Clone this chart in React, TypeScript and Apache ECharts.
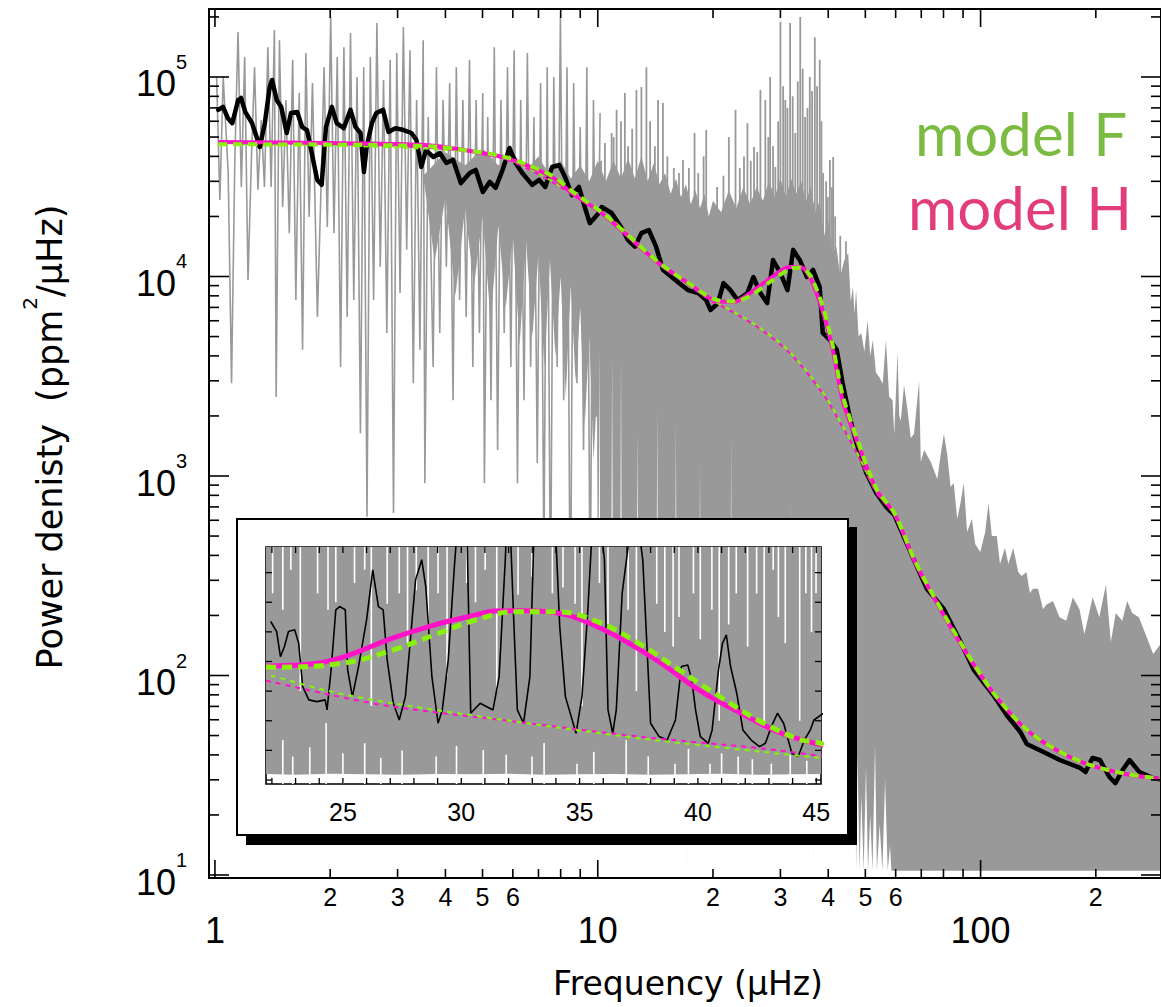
import React, { useEffect, useRef } from 'react';
import * as echarts from 'echarts';

// ---------------- axis ranges ----------------
const X_MIN = 0.9649, X_MAX = 296, Y_MIN = 9.66, Y_MAX = 219200;
const IX_MIN = 21.75, IX_MAX = 45.2, IY_MIN = -270, IY_MAX = 15730;

// ---------------- main panel: raw spectrum, low frequency part (zig-zag) ----------------
const grayLowFreq = [1.010,1.030,1.051,1.083,1.105,1.127,1.149,1.172,1.196,1.220,1.245,1.269,1.295,1.321,1.347,1.375,1.402,1.430,1.445,1.474,1.503,1.533,1.564,1.596,1.627,1.660,1.694,1.728,1.762,1.798,1.852,1.889,1.928,1.966,2.006,2.046,2.087,2.129,2.172,2.215,2.260,2.305,2.351,2.399,2.447,2.496,2.546,2.597,2.649,2.703,2.757,2.812,2.869,2.927,2.985,3.045,3.106,3.169,3.232,3.297,3.364,3.431,3.499,3.535,3.606,3.715,3.790,3.866,3.944,4.023,4.104,4.187,4.271,4.355,4.443,4.532,4.624,4.717,4.811,4.908,5.007,5.057,5.158,5.262,5.367,5.475,5.585,5.697,5.811,5.929,6.047,6.169,6.292,6.418,6.548,6.679,6.813,6.950,7.090,7.232,7.378,7.525,7.676,7.831,7.988,8.147,8.312,8.479,8.649,8.822,8.999,9.181,9.365,9.553,9.745,9.940,10.14];
const grayLowPower = [100000,24200,100000,33000,2920,38400,168000,28100,126000,9600,38400,112000,27200,60900,28100,141000,28100,172000,2490,153000,22300,76700,16500,122000,7620,83200,4290,132000,19900,93300,6260,24200,112000,17700,200000,16500,126000,3520,141000,6260,166000,7620,100000,1640,112000,624,126000,7620,186600,11200,96600,5210,122000,653,132000,8260,178000,13600,136000,2920,76700,4290,153000,920,63100,3520,112000,5210,76700,11200,93300,2400,112000,7620,76700,6260,122000,3520,76700,5210,83200,920,63100,2400,141000,1350,76700,5210,112000,3520,136000,920,76700,2400,132000,3520,63100,1160,93300,380,112000,190,100000,3520,200000,2400,112000,134,93300,2920,56100,1350,112000,200,76700,1980,66000];

// ---------------- main panel: raw spectrum, dense part (envelopes) ----------------
const bandTopFreq = [3.5,4.0,4.5,5.0,5.5,6.0,6.5,7.0,7.5,8.0,8.5,9.0,9.5,10.0,10.5,11.0,11.5,12.0,12.5,13.0,13.5,14.0,14.5,15.0,15.5,16.0,16.5,17.0,17.5,18.0,18.5,19.0,19.5,20.0,21,22,23,24,25,26,27,28,29,30,31,32,33,34,35,36,37,38,39,40,41,42,43,44,45.1,45.8,46.4,46.85,47.3,48.0,48.8,49.7,50.7,51.5,52.3,53.3,54.4,55.5,56.6,57.7,58.9,59.5,60.7,61.3,61.9,63.1,64.4,65.7,67.0,69.1,69.8,71.2,74.1,77.1,78.7,80.2,81.8,83.5,85.1,86.9,88.6,90.4,92.2,94.9,96.8,99.8,102.8,104.9,107,110.2,112.4,115.8,118.2,121.7,125.4,128,131.8,134.5,137.2,141.3,145.6,148.5,154.6,160.8,167.4,174.2,181.3,186.7,196.2,204.2,212.5,218.9,225.5,234.5,241.5,248.9,259.1,269.8,282.4,300];
const bandTopPower = [32000,42000,36000,44000,36000,42000,34000,40000,32000,38000,31000,36000,30000,38000,30000,38000,31000,39000,31000,40000,30000,37000,29000,33000,26000,31000,25000,29000,23000,27000,22000,26000,20000,24000,21000,27000,22000,28000,23000,28000,24000,30000,25000,31000,25000,31000,26000,30000,24000,28000,21000,24000,16000,19000,13000,14100,10000,12000,13100,7500,8850,6500,8550,5000,5210,4200,6060,4000,4810,3300,3130,2900,4810,2500,2400,1625,4190,2000,1890,2860,2170,1550,1625,2990,1175,1350,1175,966,1290,1625,1290,881,923,609,732,923,524,609,456,416,524,732,500,500,362,436,362,436,330,315,330,259,272,272,215,226,236,196,188,247,215,161,247,196,285,147,206,188,236,206,196,161,128,150];
const bandBottomFreq = [3.5,3.75,4.0,4.25,4.5,4.75,5.0,5.25,5.5,5.75,6.0,6.25,6.5,6.75,7.0,7.25,7.5,7.75,8.0,8.25,8.5,8.75,9.0,9.25,9.5,9.75,9.95,10.0,10.05,10.1,10.15,10.85,10.9,10.95,11.45,11.5,11.55,12.65,12.7,12.75,14.25,14.3,14.35,15.95,16.0,16.05,17.05,17.1,17.15,18.45,18.5,18.55,22.25,22.3,22.35,31.75,31.8,31.85,35.45,35.5,35.55,36.45,36.5,36.55,37.25,37.3,37.35,41.05,41.1,41.15,45.4,45.5,45.6,46.4,47.0,47.3,47.7,48.3,48.8,49.5,50.2,50.8,51.5,52.2,53.0,53.6,54.5,55.4,56.3,57.2,58.0,58.5,300];
const bandBottomPower = [32000,12000,25000,8000,22000,9000,20000,6000,18000,7000,16000,4500,15000,5000,13000,3500,12000,4000,10000,2500,9000,3000,7000,1800,5000,1200,2500,300,300,4290,300,300,4000,300,300,4000,300,300,1640,300,300,2200,300,300,1850,300,300,10.5,300,300,1160,300,300,1640,300,300,760,300,300,10.5,300,300,10.5,300,300,10.5,300,300,10.5,300,300,10.5,300,60,60,10.5,40,10.5,25,10.5,35,10.5,20,10.5,45,10.5,18,10.5,30,10.5,14,10.5,10.5];
// tall single spectral lines rising above the dense part
const spikeFreq = [10.2,10.44,10.87,11.0,11.2,11.5,11.77,12.0,12.3,12.62,13.0,13.4,13.7,14.1,14.37,14.8,15.2,15.8,16.3,16.7,17.3,17.9,18.3,18.9,19.2,20.5,21.3,22.0,22.9,23.5,24.1,24.6,25.1,25.6,26.1,26.6,27.4,27.9,28.2,28.7,29.1,29.6,30.0,30.5,30.9,31.3,31.8,32.3,32.8,33.3,33.8,34.3,34.8,35.3,35.8,36.3,36.9,37.4,38.0,38.4,38.8,39.5,39.9,40.4,40.9,41.2,41.7,43.0,44.5];
const spikePeak = [38000,46700,52400,50000,68400,60000,83200,45000,55000,86100,89100,112000,60000,45000,76700,74100,40000,35000,33000,38400,35000,52400,33000,40000,54200,28100,32000,50000,68400,35000,40000,58700,38000,44600,42000,86100,76700,50000,100000,45000,35400,60000,189000,90000,76700,70000,186600,80000,52400,95000,200000,110000,63100,70000,100000,85000,158000,90000,122000,60000,33000,30000,25000,38400,28000,39700,20000,16000,15000];
const SPIKE_BASE = 5000;

// ---------------- main panel: smoothed spectrum ----------------
const smoothFreq = [1.02,1.05,1.08,1.11,1.15,1.17,1.20,1.25,1.285,1.31,1.35,1.39,1.41,1.45,1.49,1.54,1.58,1.64,1.69,1.74,1.79,1.85,1.90,1.95,2.02,2.08,2.17,2.26,2.33,2.40,2.45,2.49,2.57,2.64,2.75,2.84,2.96,3.11,3.26,3.36,3.46,3.56,3.72,3.87,4.02,4.19,4.39,4.63,4.80,5.01,5.22,5.41,5.64,5.88,6.10,6.35,6.74,7.03,7.29,7.60,7.93,8.21,8.56,8.93,9.25,9.53,10.06,10.24,10.87,11.5,12.0,12.5,13.0,13.6,14.2,14.8,15.6,16.3,17.2,18.3,19.2,19.7,20.6,21.3,22.2,23.2,24.6,25.5,26.6,27.7,28.7,30.0,31.3,32.4,33.7,35.2,36.5,38.0,38.7,40.4,42.1,43.6,45.5,47.4,50.3,53.4,56.7,59.5,67.0,72.4,80.2,88.7,95.9,108,117,127,132,146,161,182,188,196,205,217,225,235,245,260,282,300];
const smoothPower = [68400,70800,62300,58700,76700,78500,66800,58700,50000,44600,58700,89100,96600,76700,70800,52400,66000,66800,56100,54200,41600,30500,28800,56100,70800,58700,55400,68400,56100,52400,33400,44600,58700,66000,68400,53000,55400,54200,52400,48300,35400,43000,39700,41600,37100,38400,29400,33000,34200,26500,29800,27800,34200,44100,37100,33000,28800,30500,28100,35400,36200,31600,25600,28100,22300,18500,20800,22300,20800,17700,15200,14100,16500,17100,14100,10800,9940,9270,8550,8260,7620,6790,7360,9270,8550,7620,8260,9940,8260,7360,12100,10400,8550,13600,12100,9940,10800,8850,5210,4810,4290,2930,1980,1460,1035,822,700,638,379,272,215,147,107,79.8,63.4,52.1,45.4,41.4,37.7,34.4,32.8,38.6,37.7,31.0,28.9,33.6,37.7,32.8,30.6,30.0];

// ---------------- main panel: models ----------------
const modelFreq = [1.02,2,3,3.78,4.5,5.64,6.5,7.6,8.56,10.24,11.75,14.4,17.5,20.1,22.6,25.0,28.2,31.7,33.8,35.8,38.6,41.1,43.6,47.5,53.5,59.5,67,72.4,88.7,108,132,161,196,239,282,300];
const modelHPower = [47200,46700,46100,45100,43000,39700,36200,31500,26200,20800,16500,11700,9070,7620,7450,8260,9780,11170,11170,9940,6790,4290,2400,1510,850,650,380,285,144,81.6,53.3,41.4,35.2,32.1,30.6,30.2];
const modelFPower = [46000,45800,45400,44800,43000,40000,36500,32000,26800,21000,16700,11800,9100,7700,7500,8000,9400,10900,11100,10200,7200,4500,2550,1550,860,655,385,288,146,82,53.5,41.5,35.3,32.2,30.7,30.2];
const bgFreq = [1.02,5,10.24,14.4,17.5,20.1,21.3,26.1,31.7,38.6,43.6,47.5,53.5,59.5,67,72.4,88.7,108,132,161,196,239,282,300];
const bgHPower = [47200,41500,20800,11700,8900,7400,7030,5580,4140,2610,1760,1300,820,640,378,284,144,81.6,53.3,41.4,35.2,32.1,30.6,30.2];
const bgFPower = [46000,41600,21000,11800,9000,7500,7100,5650,4200,2650,1790,1320,830,645,383,287,146,82,53.5,41.5,35.3,32.2,30.7,30.2];

// ---------------- inset panel ----------------
const insetTopFreq = [21.75, 45.2];
const insetTopValue = [17500, 17500];
const insetBaseFreq = [21.75,23,24.5,26,27.5,29,30.5,32,33.5,35,36.5,38,39.5,41,42.5,44,45.2];
const insetBaseValue = [400,350,420,380,350,400,380,420,350,380,400,350,380,420,350,380,400];
// low points of the raw spectrum reaching down from the top of the inset
const insetTopGapFreq = [22.03,22.46,22.80,23.2,23.93,24.37,24.7,25.49,25.92,26.2,26.87,27.38,27.73,28.1,28.6,29.02,29.4,30.23,30.6,31.01,31.5,32.4,32.99,33.85,34.3,34.81,35.1,35.84,36.2,37.05,37.4,38.26,38.6,38.95,39.2,39.81,40.1,40.59,40.9,41.3,41.62,42.1,42.48,42.8,43.18,43.4,43.69,44.3,44.56,44.8,44.99];
const insetTopGapDepth = [12600,11500,14200,6000,12600,11500,12000,13300,14200,5000,11900,12600,9240,12800,10500,12600,7000,13300,12000,14200,6000,12500,13700,12600,13000,11900,5000,13300,10500,11500,6000,11900,10000,9010,11000,12600,9500,11500,4000,10500,12600,9000,12600,3500,14200,11000,9240,4000,12600,10000,12600];
// white gaps rising from the bottom of the inset
const insetBottomGapFreq = [22.46,22.88,23.6,24.29,25.0,25.92,26.6,27.5,28.94,29.8,30.93,31.9,32.99,33.5,34.89,35.6,36.97,37.9,39.03,39.6,40.51,41.0,41.70,42.3,43.10,43.9,44.6];
const insetBottomGapTop = [2700,1580,2200,3850,1800,2480,1500,2000,1580,2300,2030,1700,1580,2500,1100,1900,2700,1600,1100,2100,1100,1800,1580,1400,1100,1700,1300];
const insetSmoothFreq = [21.95,22.2,22.36,22.53,22.7,22.96,23.13,23.3,23.56,23.9,24.25,24.33,24.5,24.7,24.86,25.1,25.2,25.4,25.66,26.0,26.26,26.5,26.7,26.87,27.13,27.38,27.64,27.9,28.07,28.33,28.5,28.76,29.02,29.2,29.45,29.71,29.97,30.2,30.4,30.8,31.34,31.6,31.86,32.0,32.2,32.37,32.63,32.9,33.06,33.2,33.9,34.16,34.4,34.85,35.1,35.35,35.5,35.7,36.05,36.2,36.4,36.55,36.8,37.07,37.24,37.67,37.84,38.0,38.36,38.7,39.05,39.3,39.57,39.74,39.9,40.1,40.44,40.6,40.87,41.04,41.2,41.38,41.64,41.9,42.25,42.6,42.85,43.1,43.36,43.62,43.97,44.23,44.5,44.75,44.9,45.3];
const insetSmoothValue = [10700,10020,8330,9010,10020,10140,9240,6300,5410,5290,5410,4730,7430,11490,11710,11490,7430,5630,7660,10810,14190,11710,11490,8110,5180,4050,5630,10360,13510,14870,13060,6980,3830,4730,8110,14410,20000,20000,4505,5180,4730,6980,14870,20000,11490,4730,3830,6980,15990,20000,20000,10360,5630,3155,5630,11490,15990,20000,14870,4730,3155,4730,12610,15990,20000,14870,9240,3830,2930,2700,4050,7660,7770,6760,4730,2930,2480,3380,7430,9240,9800,7660,5860,3380,2700,2250,2480,3600,4505,3830,1800,1575,2700,3380,4050,4500];
const insetHFreq = [21.75,21.95,23.67,25.04,27.1,28.85,30.58,31.4,32.5,33.67,34.9,36.6,38.35,40.05,41.8,43.5,44.9,45.3];
const insetHValue = [7690,7700,7830,8320,9585,10460,11130,11410,11430,11360,10930,9675,7990,6075,4520,3170,2495,2350];
const insetFFreq = [21.75,22.0,25.04,27.1,28.85,30.6,32.3,34.03,35.75,37.47,39.2,40.93,42.66,44.37,44.9,45.3];
const insetFValue = [7640,7615,7900,8775,9790,10800,11360,11360,10690,9250,7430,5620,3935,2700,2590,2400];
const insetBgFreq = [21.75,21.95,24.5,27.1,32.3,37.5,42.66,44.9,45.3];
const insetBgHValue = [6700,6640,5740,4950,3940,2930,2140,1690,1620];
const insetBgFValue = [7120,7050,5970,5180,3940,2820,1910,1530,1470];

// ---------------- ticks and tick labels ----------------
const xMajorTicks = [1, 10, 100];
const xMajorLabels = ['1', '10', '100'];
const xMinorTicks = [2,3,4,5,6,7,8,9,20,30,40,50,60,70,80,90,200];
const xMinorLabelValues = [2,3,4,5,6,20,30,40,50,60,200];
const xMinorLabelTexts = ['2','3','4','5','6','2','3','4','5','6','2'];
const yMajorTicks = [10, 100, 1000, 10000, 100000];
const yMajorExponents = ['1','2','3','4','5'];
const yMinorTicks = [20,30,40,50,60,70,80,90,200,300,400,500,600,700,800,900,2000,3000,4000,5000,6000,7000,8000,9000,20000,30000,40000,50000,60000,70000,80000,90000,200000];
const insetXTicks = [22,23,24,25,26,27,28,29,30,31,32,33,34,35,36,37,38,39,40,41,42,43,44,45];
const insetXLabels = [25, 30, 35, 40, 45];
const insetYTicks = [0,2000,4000,6000,8000,10000,12000,14000];

const NUM_FONT = '"Liberation Sans", Arial, sans-serif';
const TITLE_FONT = '"DejaVu Sans", sans-serif';
const LEGEND_FONT = 'Lato, "Liberation Sans", sans-serif';
const GRAY = '#999999';
const MAGENTA = '#ff12c8';
const LIME = '#88f20a';

const zip = (a: number[], b: number[]) => a.map((v, i) => [v, b[i]]);

function bandRenderer(tf: number[], tp: number[], bf: number[], bp: number[], lo: number, hi: number) {
  return (params: any, api: any) => {
    if (params.dataIndex !== 0) return null;
    const pts: number[][] = [];
    for (let i = 0; i < tf.length; i++) pts.push(api.coord([tf[i], Math.min(hi, Math.max(lo, tp[i]))]));
    for (let i = bf.length - 1; i >= 0; i--) pts.push(api.coord([bf[i], Math.min(hi, Math.max(lo, bp[i]))]));
    return { type: 'polygon', shape: { points: pts }, style: { fill: GRAY } };
  };
}

function verticalLineRenderer(base: number, color: string, width: number) {
  return (params: any, api: any) => {
    const f = api.value(0), p = api.value(1);
    const a = api.coord([f, p]);
    const b = api.coord([f, base]);
    return { type: 'line', shape: { x1: a[0], y1: a[1], x2: b[0], y2: b[1] }, style: { stroke: color, lineWidth: width } };
  };
}

function mainDecor(params: any, api: any) {
  if (params.dataIndex !== 0) return null;
  const ch: any[] = [];
  const L = (x1: number, y1: number, x2: number, y2: number) =>
    ch.push({ type: 'line', shape: { x1, y1, x2, y2 }, style: { stroke: '#000', lineWidth: 1.6 } });
  const T = (x: number, y: number, text: string, size: number, align = 'center') =>
    ch.push({ type: 'text', x, y, style: { text, fontSize: size, fontFamily: NUM_FONT, fill: '#000', align, verticalAlign: 'middle' } });
  xMajorTicks.forEach((v, i) => {
    const [x, yb] = api.coord([v, Y_MIN]);
    const yt = api.coord([v, Y_MAX])[1];
    L(x, yb, x, yb - 18); L(x, yt, x, yt + 18);
    T(x, yb + 52, xMajorLabels[i], 36);
  });
  xMinorTicks.forEach((v) => {
    const [x, yb] = api.coord([v, Y_MIN]);
    const yt = api.coord([v, Y_MAX])[1];
    L(x, yb, x, yb - 9); L(x, yt, x, yt + 9);
  });
  xMinorLabelValues.forEach((v, i) => {
    const [x, yb] = api.coord([v, Y_MIN]);
    T(x, yb + 19, xMinorLabelTexts[i], 25);
  });
  yMajorTicks.forEach((v, i) => {
    const [xl, y] = api.coord([X_MIN, v]);
    const xr = api.coord([X_MAX, v])[0];
    L(xl, y, xl + 20, y); L(xr, y, xr - 20, y);
    T(xl - 33, y + 7, '10', 36, 'right');
    T(xl - 33, y - 15, yMajorExponents[i], 20, 'left');
  });
  yMinorTicks.forEach((v) => {
    const [xl, y] = api.coord([X_MIN, v]);
    const xr = api.coord([X_MAX, v])[0];
    L(xl, y, xl + 10, y); L(xr, y, xr - 10, y);
  });
  return { type: 'group', children: ch };
}

function insetDecor(params: any, api: any) {
  if (params.dataIndex !== 0) return null;
  const ch: any[] = [];
  const L = (x1: number, y1: number, x2: number, y2: number) =>
    ch.push({ type: 'line', shape: { x1, y1, x2, y2 }, style: { stroke: '#000', lineWidth: 1.3 } });
  insetXTicks.forEach((v) => {
    const [x, yb] = api.coord([v, IY_MIN]);
    const yt = api.coord([v, IY_MAX])[1];
    L(x, yb, x, yb - 6); L(x, yt, x, yt + 6);
  });
  insetYTicks.forEach((v) => {
    const [xl, y] = api.coord([IX_MIN, v]);
    const xr = api.coord([IX_MAX, v])[0];
    L(xl, y, xl + 6, y); L(xr, y, xr - 6, y);
  });
  insetXLabels.forEach((v) => {
    const [x, yb] = api.coord([v, IY_MIN]);
    ch.push({ type: 'text', x, y: yb + 28, style: { text: String(v), fontSize: 25, fontFamily: NUM_FONT, fill: '#000', align: 'center', verticalAlign: 'middle' } });
  });
  return { type: 'group', children: ch };
}

const hiddenAxis = {
  axisLine: { show: false }, axisTick: { show: false }, axisLabel: { show: false }, splitLine: { show: false },
};

export default function App() {
  const ref = useRef<HTMLDivElement>(null);
  useEffect(() => {
    if (!ref.current) return;
    const chart = echarts.init(ref.current, null, { renderer: 'svg' });
    const option: any = {
      animation: false,
      backgroundColor: '#ffffff',
      grid: [
        { left: 209, top: 9, width: 960, height: 869, show: true, borderColor: '#000', borderWidth: 2, backgroundColor: 'transparent', z: 8 },
        { left: 266, top: 547, width: 555, height: 237, show: true, borderColor: '#000', borderWidth: 1.6, backgroundColor: 'transparent', z: 15 },
      ],
      xAxis: [
        { gridIndex: 0, type: 'log', logBase: 10, min: X_MIN, max: X_MAX, ...hiddenAxis },
        { gridIndex: 1, type: 'value', min: IX_MIN, max: IX_MAX, ...hiddenAxis },
      ],
      yAxis: [
        { gridIndex: 0, type: 'log', logBase: 10, min: Y_MIN, max: Y_MAX, ...hiddenAxis },
        { gridIndex: 1, type: 'value', min: IY_MIN, max: IY_MAX, ...hiddenAxis },
      ],
      graphic: [
        { type: 'rect', z: 10, silent: true, shape: { x: 246, y: 527, width: 611, height: 318 }, style: { fill: '#000' } },
        { type: 'rect', z: 11, silent: true, shape: { x: 237, y: 519, width: 611, height: 316 }, style: { fill: '#fff', stroke: '#000', lineWidth: 2 } },
        { type: 'text', z: 12, x: 915, y: 133, style: { text: 'model F', fontSize: 60, fontFamily: LEGEND_FONT, fill: '#7cbb42', align: 'left', verticalAlign: 'middle' } },
        { type: 'text', z: 12, x: 908, y: 207, style: { text: 'model H', fontSize: 60, fontFamily: LEGEND_FONT, fill: '#e33c7b', align: 'left', verticalAlign: 'middle' } },
        { type: 'text', z: 12, x: 688, y: 983, style: { text: 'Frequency (μHz)', fontSize: 33, fontFamily: TITLE_FONT, fill: '#000', align: 'center', verticalAlign: 'middle' } },
        {
          type: 'text', z: 12, x: 50, y: 437, rotation: Math.PI / 2,
          style: {
            text: '{a|Power denisty  (ppm}{s|2}{a|/μHz)}',
            rich: {
              a: { fontSize: 35, fontFamily: TITLE_FONT, lineHeight: 60, fill: '#000' },
              s: { fontSize: 20, fontFamily: TITLE_FONT, lineHeight: 18, verticalAlign: 'top', fill: '#000' },
            },
            align: 'center', verticalAlign: 'middle', fill: '#000',
          },
        },
      ],
      series: [
        // ---- main panel ----
        { type: 'custom', xAxisIndex: 0, yAxisIndex: 0, z: 1, silent: true, clip: true,
          renderItem: bandRenderer(bandTopFreq, bandTopPower, bandBottomFreq, bandBottomPower, Y_MIN * 0.5, Y_MAX * 2), data: [[10, 1000]] },
        { type: 'line', xAxisIndex: 0, yAxisIndex: 0, z: 1, silent: true, symbol: 'none',
          lineStyle: { color: GRAY, width: 1.6 }, data: zip(grayLowFreq, grayLowPower) },
        { type: 'custom', xAxisIndex: 0, yAxisIndex: 0, z: 1, silent: true, clip: true,
          renderItem: verticalLineRenderer(SPIKE_BASE, GRAY, 1.8), data: zip(spikeFreq, spikePeak) },
        { type: 'line', xAxisIndex: 0, yAxisIndex: 0, z: 3, silent: true, symbol: 'none',
          lineStyle: { color: '#000', width: 4.5, cap: 'round', join: 'round' }, data: zip(smoothFreq, smoothPower) },
        { type: 'line', xAxisIndex: 0, yAxisIndex: 0, z: 4, silent: true, symbol: 'none', smooth: 0.3,
          lineStyle: { color: MAGENTA, width: 2, type: [5, 5] }, data: zip(bgFreq, bgHPower) },
        { type: 'line', xAxisIndex: 0, yAxisIndex: 0, z: 4, silent: true, symbol: 'none', smooth: 0.3,
          lineStyle: { color: LIME, width: 2, type: [5, 5], dashOffset: 5 }, data: zip(bgFreq, bgFPower) },
        { type: 'line', xAxisIndex: 0, yAxisIndex: 0, z: 5, silent: true, symbol: 'none', smooth: 0.3,
          lineStyle: { color: MAGENTA, width: 4 }, data: zip(modelFreq, modelHPower) },
        { type: 'line', xAxisIndex: 0, yAxisIndex: 0, z: 6, silent: true, symbol: 'none', smooth: 0.3,
          lineStyle: { color: LIME, width: 4, type: [9, 6] }, data: zip(modelFreq, modelFPower) },
        { type: 'custom', xAxisIndex: 0, yAxisIndex: 0, z: 9, silent: true, renderItem: mainDecor, data: [[10, 1000]] },
        // ---- inset ----
        { type: 'custom', xAxisIndex: 1, yAxisIndex: 1, z: 16, silent: true, clip: true,
          renderItem: bandRenderer(insetTopFreq, insetTopValue, insetBaseFreq, insetBaseValue, IY_MIN, IY_MAX), data: [[30, 5000]] },
        { type: 'custom', xAxisIndex: 1, yAxisIndex: 1, z: 16, silent: true, clip: true,
          renderItem: verticalLineRenderer(IY_MAX, '#ffffff', 1.6), data: zip(insetTopGapFreq, insetTopGapDepth) },
        { type: 'custom', xAxisIndex: 1, yAxisIndex: 1, z: 16, silent: true, clip: true,
          renderItem: verticalLineRenderer(IY_MIN, '#ffffff', 1.6), data: zip(insetBottomGapFreq, insetBottomGapTop) },
        { type: 'line', xAxisIndex: 1, yAxisIndex: 1, z: 17, silent: true, symbol: 'none',
          lineStyle: { color: '#000', width: 1.6 }, data: zip(insetSmoothFreq, insetSmoothValue) },
        { type: 'line', xAxisIndex: 1, yAxisIndex: 1, z: 18, silent: true, symbol: 'none', smooth: 0.3,
          lineStyle: { color: MAGENTA, width: 2, type: [5, 5] }, data: zip(insetBgFreq, insetBgHValue) },
        { type: 'line', xAxisIndex: 1, yAxisIndex: 1, z: 18, silent: true, symbol: 'none', smooth: 0.3,
          lineStyle: { color: LIME, width: 2, type: [5, 5], dashOffset: 5 }, data: zip(insetBgFreq, insetBgFValue) },
        { type: 'line', xAxisIndex: 1, yAxisIndex: 1, z: 19, silent: true, symbol: 'none', smooth: 0.4,
          lineStyle: { color: MAGENTA, width: 5 }, data: zip(insetHFreq, insetHValue) },
        { type: 'line', xAxisIndex: 1, yAxisIndex: 1, z: 20, silent: true, symbol: 'none', smooth: 0.4,
          lineStyle: { color: LIME, width: 5, type: [10, 6] }, data: zip(insetFFreq, insetFValue) },
        { type: 'custom', xAxisIndex: 1, yAxisIndex: 1, z: 21, silent: true, renderItem: insetDecor, data: [[30, 5000]] },
      ],
    };
    chart.setOption(option);
    return () => chart.dispose();
  }, []);
  return <div ref={ref} style={{ position: 'absolute', left: 0, top: 0, width: 1161, height: 1007 }} />;
}
